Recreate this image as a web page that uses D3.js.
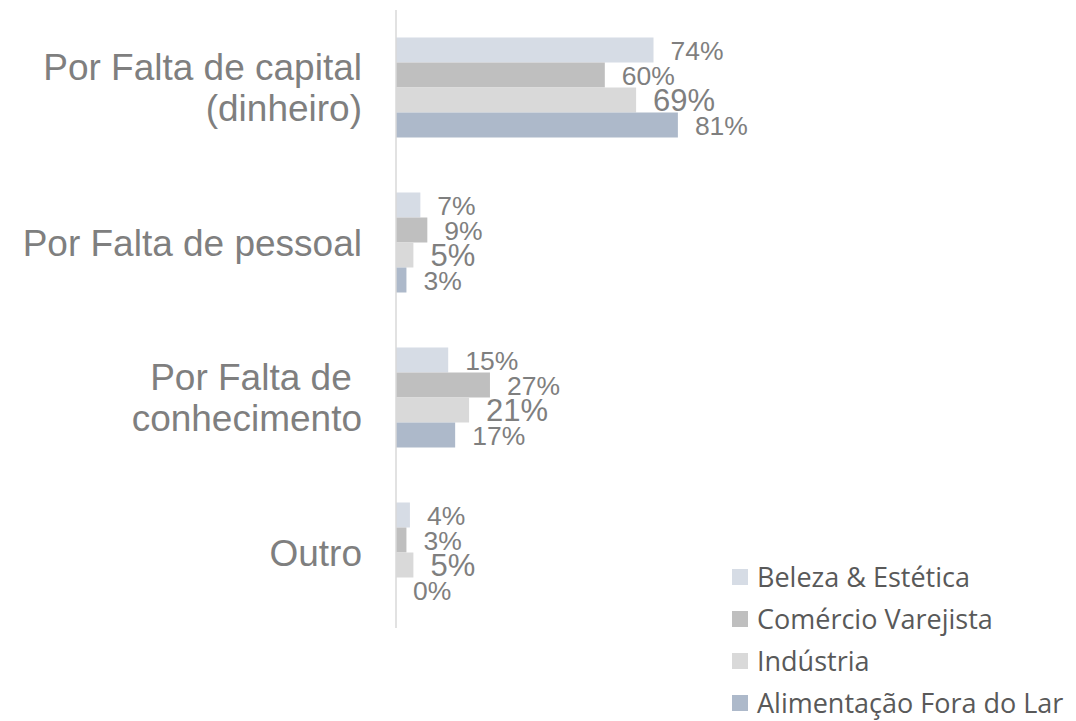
<!DOCTYPE html>
<html>
<head>
<meta charset="utf-8">
<script src="https://cdn.jsdelivr.net/npm/d3@7"></script>
<style>
  html, body { margin: 0; padding: 0; background: #ffffff; }
  svg { display: block; }
  text { white-space: pre; }
</style>
</head>
<body>
<svg id="chart" width="1076" height="721"></svg>
<script>
const categories = ["Por Falta de capital\n(dinheiro)", "Por Falta de pessoal", "Por Falta de \nconhecimento", "Outro"];
const seriesNames = ["Beleza & Estética", "Comércio Varejista", "Indústria", "Alimentação Fora do Lar"];
const belezaValues = [74, 7, 15, 4];
const comercioValues = [60, 9, 27, 3];
const industriaValues = [69, 5, 21, 5];
const alimentacaoValues = [81, 3, 17, 0];
const seriesColors = ["#d6dce5", "#bfbfbf", "#d9d9d9", "#adb9ca"];
const labelSizes = [26.5, 26.5, 31, 26.5];

const seriesValues = [belezaValues, comercioValues, industriaValues, alimentacaoValues];
const data = categories.map((c, i) => ({
  category: c,
  values: seriesNames.map((s, j) => ({ series: s, j, value: seriesValues[j][i] }))
}));

const svg = d3.select("#chart");
const x = d3.scaleLinear().domain([0, 100]).range([396, 744]);
const y0 = d3.scaleBand().domain(categories).range([10, 630]).padding(0);
const y1 = d3.scaleBand().domain(seriesNames).range([0, y0.bandwidth()]).paddingInner(0).paddingOuter(1.1);

const groups = svg.append("g").selectAll("g.group").data(data).enter().append("g")
  .attr("class", "group")
  .attr("transform", d => `translate(0,${y0(d.category)})`);

groups.selectAll("rect").data(d => d.values).enter().append("rect")
  .attr("x", x(0))
  .attr("y", d => y1(d.series))
  .attr("width", d => x(d.value) - x(0))
  .attr("height", y1.bandwidth())
  .attr("fill", d => seriesColors[d.j]);

groups.selectAll("text.val").data(d => d.values).enter().append("text")
  .attr("class", "val")
  .attr("x", d => x(d.value) + 17)
  .attr("y", d => y1(d.series) + y1.bandwidth() / 2)
  .attr("dy", "0.36em")
  .attr("font-family", "Liberation Sans, Arial, sans-serif")
  .attr("font-size", d => labelSizes[d.j])
  .attr("fill", "#7f7f7f")
  .text(d => d.value + "%");

// axis line
svg.append("line")
  .attr("x1", x(0)).attr("x2", x(0))
  .attr("y1", y0.range()[0]).attr("y2", 628)
  .attr("stroke", "#d9d9d9").attr("stroke-width", 1.5);

// category labels
const catG = svg.append("g");
data.forEach(d => {
  const lines = d.category.split("\n");
  const lh = 41;
  const cy = y0(d.category) + y0.bandwidth() / 2;
  const t = catG.append("text")
    .attr("text-anchor", "end")
    .attr("font-family", "Liberation Sans, Arial, sans-serif")
    .attr("font-size", 37)
    .attr("fill", "#7f7f7f");
  lines.forEach((ln, k) => {
    t.append("tspan")
      .attr("x", 362)
      .attr("y", cy + (k - (lines.length - 1) / 2) * lh)
      .attr("dy", "0.36em")
      .text(ln);
  });
});

// legend
const legend = svg.append("g").selectAll("g").data(seriesNames).enter().append("g")
  .attr("transform", (d, i) => `translate(732,${577 + i * 42})`);
legend.append("rect")
  .attr("x", 0).attr("y", -8).attr("width", 16).attr("height", 16)
  .attr("fill", (d, i) => seriesColors[i]);
legend.append("text")
  .attr("x", 25).attr("y", 0).attr("dy", "0.36em")
  .attr("font-family", "Open Sans, Noto Sans, sans-serif")
  .attr("font-size", 27)
  .attr("fill", "#595959")
  .text(d => d);
</script>
</body>
</html>
